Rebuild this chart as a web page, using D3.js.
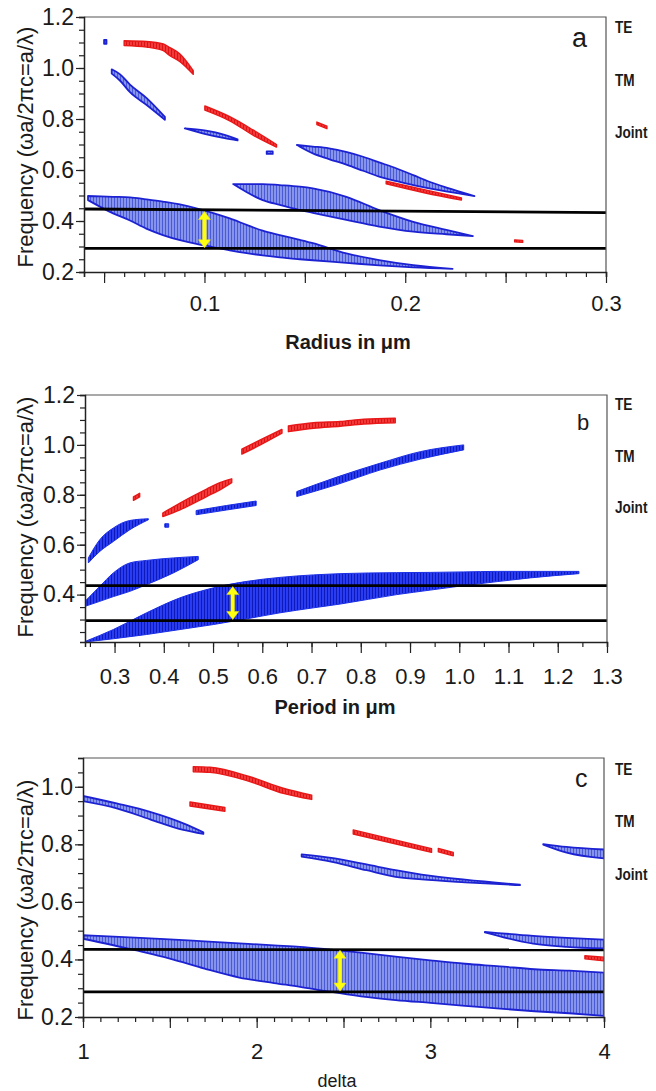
<!DOCTYPE html>
<html><head><meta charset="utf-8">
<script src="https://cdn.jsdelivr.net/npm/d3@7"></script>
<style>
body{margin:0;background:#fff}
svg text{font-family:"Liberation Sans",Arial,sans-serif;fill:#1a1a1a}
</style>
</head><body>
<svg id="chart" width="656" height="1091"></svg>
<script>
// ---------------- DATA ----------------
const sideLabels = ["TE", "TM", "Joint"];

// Panel a : radius sweep
const aXDomain = [0.04, 0.3];
const aYDomain = [0.2, 1.2];
const aXTickLabels = [0.1, 0.2, 0.3];
const aYTickLabels = [0.2, 0.4, 0.6, 0.8, 1.0, 1.2];
const aGapLines = [[0.447, 0.433], [0.293, 0.293]];   // [left, right]
const aArrow = [0.1, 0.437, 0.295];                    // x, top, bottom
const aBands = [
  {mode:"TM", x:[0.0500,0.0512], hi:[1.110,1.110], lo:[1.095,1.095]},
  {mode:"TE", x:[0.0600,0.0712,0.0795,0.0828,0.0878,0.0944], hi:[1.107,1.104,1.094,1.080,1.055,0.990], lo:[1.088,1.082,1.068,1.048,1.025,0.975]},
  {mode:"TM", x:[0.0538,0.0580,0.0629,0.0712,0.0803], hi:[0.995,0.975,0.935,0.882,0.808], lo:[0.978,0.950,0.905,0.855,0.797]},
  {mode:"TM", x:[0.0902,0.1000,0.1100,0.1165], hi:[0.763,0.755,0.738,0.720], lo:[0.763,0.742,0.725,0.716]},
  {mode:"TE", x:[0.1002,0.1126,0.1242,0.1359], hi:[0.851,0.809,0.757,0.700], lo:[0.835,0.793,0.737,0.690]},
  {mode:"TM", x:[0.1310,0.1340], hi:[0.673,0.673], lo:[0.663,0.663]},
  {mode:"TE", x:[0.1560,0.1610], hi:[0.788,0.772], lo:[0.778,0.762]},
  {mode:"TM", x:[0.146,0.154,0.162,0.171,0.179,0.187,0.196,0.204,0.212,0.221,0.2345], hi:[0.698,0.692,0.685,0.670,0.652,0.630,0.605,0.580,0.554,0.530,0.498], lo:[0.698,0.665,0.643,0.620,0.597,0.574,0.556,0.541,0.528,0.515,0.498]},
  {mode:"TE", x:[0.1905,0.2100,0.2280], hi:[0.556,0.522,0.490], lo:[0.546,0.510,0.482]},
  {mode:"TM", x:[0.1143,0.129,0.1375,0.1475,0.154,0.1707,0.187,0.204,0.2205,0.2337], hi:[0.545,0.545,0.541,0.535,0.528,0.495,0.443,0.397,0.365,0.341], lo:[0.545,0.482,0.463,0.443,0.432,0.404,0.378,0.358,0.348,0.341]},
  {mode:"TM", x:[0.042,0.0545,0.0629,0.071,0.0793,0.0878,0.096,0.104,0.1126,0.121,0.129,0.1375,0.1475,0.154,0.1707,0.187,0.204,0.2236], hi:[0.498,0.495,0.493,0.485,0.476,0.465,0.450,0.432,0.410,0.385,0.362,0.345,0.326,0.313,0.273,0.247,0.227,0.212], lo:[0.482,0.430,0.402,0.370,0.345,0.325,0.310,0.298,0.285,0.274,0.265,0.257,0.250,0.246,0.236,0.226,0.218,0.212]},
  {mode:"TE", x:[0.2545,0.2585], hi:[0.326,0.324], lo:[0.318,0.316]}
];

// Panel b : period sweep
const bXDomain = [0.24, 1.3];
const bYDomain = [0.21, 1.2];
const bXTickLabels = [0.3,0.4,0.5,0.6,0.7,0.8,0.9,1.0,1.1,1.2,1.3];
const bYTickLabels = [0.4, 0.6, 0.8, 1.0, 1.2];
const bGapLines = [[0.436, 0.436], [0.296, 0.296]];
const bArrow = [0.54, 0.432, 0.300];
const bBands = [
  {mode:"TM", x:[0.24,0.2976,0.365,0.433,0.5008,0.5687,0.636,0.704,0.758,0.873,0.941,1.009,1.077,1.144,1.243], hi:[0.212,0.260,0.327,0.387,0.427,0.453,0.469,0.479,0.484,0.488,0.489,0.491,0.493,0.493,0.493], lo:[0.210,0.223,0.240,0.260,0.280,0.303,0.327,0.347,0.362,0.400,0.418,0.436,0.452,0.467,0.484]},
  {mode:"TM", x:[0.24,0.27,0.2976,0.331,0.365,0.4195,0.47], hi:[0.373,0.433,0.487,0.527,0.537,0.547,0.553], lo:[0.353,0.373,0.392,0.413,0.440,0.487,0.540]},
  {mode:"TM", x:[0.2468,0.27,0.2976,0.331,0.3687], hi:[0.547,0.620,0.667,0.697,0.704], lo:[0.527,0.573,0.613,0.660,0.700]},
  {mode:"TM", x:[0.402,0.410], hi:[0.684,0.684], lo:[0.670,0.670]},
  {mode:"TE", x:[0.3384,0.351], hi:[0.792,0.806], lo:[0.778,0.792]},
  {mode:"TE", x:[0.398,0.433,0.487,0.514,0.538], hi:[0.727,0.767,0.823,0.849,0.864], lo:[0.713,0.740,0.793,0.820,0.849]},
  {mode:"TM", x:[0.4657,0.527,0.5876], hi:[0.737,0.757,0.775], lo:[0.720,0.739,0.757]},
  {mode:"TE", x:[0.5585,0.596,0.64], hi:[0.983,1.020,1.062], lo:[0.963,1.000,1.047]},
  {mode:"TE", x:[0.653,0.704,0.758,0.806,0.87], hi:[1.076,1.089,1.094,1.103,1.107], lo:[1.053,1.067,1.075,1.084,1.089]},
  {mode:"TM", x:[0.67,0.75,0.84,0.921,1.009], hi:[0.813,0.870,0.927,0.973,1.000], lo:[0.793,0.840,0.900,0.943,0.980]}
];

// Panel c : delta sweep
const cXDomain = [1, 4];
const cYDomain = [0.2, 1.1];
const cXTickLabels = [1, 2, 3, 4];
const cYTickLabels = [0.2, 0.4, 0.6, 0.8, 1.0];
const cGapLines = [[0.435, 0.433], [0.287, 0.287]];
const cArrow = [2.48, 0.432, 0.290];
const cBands = [
  {mode:"TM", x:[1.0,1.194,1.386,1.578,1.693], hi:[0.968,0.942,0.913,0.873,0.842], lo:[0.950,0.925,0.887,0.850,0.836]},
  {mode:"TE", x:[1.616,1.817], hi:[0.947,0.928], lo:[0.933,0.915]},
  {mode:"TE", x:[1.635,1.731,1.961,2.153,2.317], hi:[1.070,1.068,1.035,0.995,0.971], lo:[1.052,1.050,1.018,0.977,0.956]},
  {mode:"TM", x:[2.259,2.441,2.633,2.8,2.95,3.2,3.516], hi:[0.765,0.752,0.730,0.710,0.695,0.677,0.660], lo:[0.757,0.738,0.710,0.687,0.678,0.668,0.658]},
  {mode:"TE", x:[2.556,3.007], hi:[0.850,0.785], lo:[0.836,0.772]},
  {mode:"TE", x:[3.046,3.132], hi:[0.786,0.772], lo:[0.774,0.760]},
  {mode:"TM", x:[3.65,3.785,4.0], hi:[0.801,0.791,0.782], lo:[0.799,0.771,0.751]},
  {mode:"TM", x:[3.314,3.592,3.785,4.0], hi:[0.496,0.482,0.475,0.469], lo:[0.494,0.455,0.444,0.438]},
  {mode:"TE", x:[3.89,4.0], hi:[0.413,0.408], lo:[0.402,0.395]},
  {mode:"TM", x:[1.0,1.3,1.5,1.7,1.9,2.1,2.25,2.4,2.6,2.8,3.0,3.2,3.4,3.6,3.8,4.0], hi:[0.484,0.476,0.470,0.463,0.456,0.449,0.444,0.436,0.424,0.410,0.397,0.385,0.376,0.366,0.361,0.354], lo:[0.472,0.432,0.403,0.368,0.337,0.318,0.305,0.290,0.272,0.259,0.249,0.239,0.229,0.220,0.213,0.204]}
];

// ---------------- RENDER ----------------
const svg = d3.select("#chart");
const defs = svg.append("defs");
function hatch(id, base, stripe){
  const p = defs.append("pattern").attr("id", id).attr("patternUnits","userSpaceOnUse")
    .attr("width", 3).attr("height", 10);
  p.append("rect").attr("width",3).attr("height",10).attr("fill",base);
  p.append("rect").attr("width",1).attr("height",10).attr("fill",stripe);
}
hatch("hLight", "#8794ec", "#4a5ad6");
hatch("hDark", "#2a3cf2", "#0d1ab8");
hatch("hRed", "#f23a3a", "#d81414");

const panels = [
  {key:"a", l:84, t:17, r:606, b:272, xd:aXDomain, yd:aYDomain, xt:aXTickLabels, yt:aYTickLabels,
   xMajorStep:0.05, xMinorStep:0.01, xFmt:".1f", yMinorStep:0.05, gaps:aGapLines, arrow:aArrow, bands:aBands,
   fill:"url(#hLight)", stroke:"#1c22d2", sw:1.8,
   xLabelY:311, title:"Radius in μm", titleBold:true, titleSize:20, titleX:348, titleY:349,
   yTitleY:147, side:[33,86,138], letter:"a", letterX:572, letterY:47, letterSize:27},
  {key:"b", l:85, t:395, r:607, b:642, xd:bXDomain, yd:bYDomain, xt:bXTickLabels, yt:bYTickLabels,
   xMajorStep:0.1, xMinorStep:0.05, xFmt:".1f", yMinorStep:0.05, gaps:bGapLines, arrow:bArrow, bands:bBands,
   fill:"url(#hDark)", stroke:"#1a2ee6", sw:1,
   xLabelY:684, title:"Period in μm", titleBold:true, titleSize:20, titleX:335, titleY:714,
   yTitleY:517, side:[410,462,513], letter:"b", letterX:577, letterY:430, letterSize:22},
  {key:"c", l:83, t:758, r:604, b:1017, xd:cXDomain, yd:cYDomain, xt:cXTickLabels, yt:cYTickLabels,
   xMajorStep:0.5, xMinorStep:0.1, xFmt:"d", yMinorStep:0.05, gaps:cGapLines, arrow:cArrow, bands:cBands,
   fill:"url(#hLight)", stroke:"#1c22d2", sw:1.8,
   xLabelY:1059, title:"delta", titleBold:false, titleSize:18, titleX:337, titleY:1087,
   yTitleY:900, side:[775,827,880], letter:"c", letterX:575, letterY:787, letterSize:25}
];

function rangeStep(d0, d1, step){
  const out = [];
  const start = Math.ceil(d0 / step - 1e-6);
  for (let k = start; k * step <= d1 + 1e-9; k++) out.push(+(k * step).toFixed(4));
  return out;
}

panels.forEach(P => {
  const x = d3.scaleLinear().domain(P.xd).range([P.l, P.r]);
  const y = d3.scaleLinear().domain(P.yd).range([P.b, P.t]);
  const g = svg.append("g");

  defs.append("clipPath").attr("id", "clip" + P.key)
    .append("rect").attr("x", P.l).attr("y", P.t).attr("width", P.r - P.l).attr("height", P.b - P.t);
  const plot = g.append("g").attr("clip-path", `url(#clip${P.key})`);

  const area = d3.area().x(d => x(d[0])).y0(d => y(d[2])).y1(d => y(d[1])).curve(d3.curveMonotoneX);
  P.bands.forEach(bd => {
    const pts = bd.x.map((v, i) => [v, bd.hi[i], bd.lo[i]]);
    const te = bd.mode === "TE";
    plot.append("path").attr("d", area(pts))
      .attr("fill", te ? "url(#hRed)" : P.fill)
      .attr("stroke", te ? "#e81818" : P.stroke)
      .attr("stroke-width", te ? 1.4 : P.sw)
      .attr("stroke-linejoin", "round");
  });

  // gap edge lines
  P.gaps.forEach(gl => {
    plot.append("line").attr("x1", P.l).attr("x2", P.r)
      .attr("y1", y(gl[0])).attr("y2", y(gl[1]))
      .attr("stroke", "#000").attr("stroke-width", 2.8);
  });

  // yellow double arrow
  const ax = x(P.arrow[0]), a0 = y(P.arrow[1]), a1 = y(P.arrow[2]);
  const hw = 6, hh = 8, s = 1.8;
  plot.append("path").attr("d",
    `M${ax},${a0} L${ax+hw},${a0+hh} L${ax+s},${a0+hh} L${ax+s},${a1-hh} L${ax+hw},${a1-hh} L${ax},${a1} L${ax-hw},${a1-hh} L${ax-s},${a1-hh} L${ax-s},${a0+hh} L${ax-hw},${a0+hh} Z`)
    .attr("fill", "#ffff10").attr("stroke", "#e8e800").attr("stroke-width", 0.5);

  // frame (top/right)
  g.append("path").attr("d", `M${P.l},${P.t} L${P.r},${P.t} L${P.r},${P.b}`)
    .attr("fill", "none").attr("stroke", "#555").attr("stroke-width", 1.2);

  // y axis minor + major
  const yMinor = rangeStep(P.yd[0], P.yd[1], P.yMinorStep);
  g.append("g").attr("transform", `translate(${P.l},0)`)
    .call(d3.axisLeft(y).tickValues(yMinor).tickSize(5).tickFormat(""))
    .call(s => { s.select(".domain").attr("stroke", "#222").attr("stroke-width", 1.5); s.selectAll("line").attr("stroke", "#222").attr("stroke-width", 1.2); });
  g.append("g").attr("transform", `translate(${P.l},0)`)
    .call(d3.axisLeft(y).tickValues(P.yt).tickSize(8).tickPadding(2).tickFormat(d3.format(".1f")))
    .call(s => {
      s.select(".domain").remove();
      s.selectAll("line").attr("stroke", "#222").attr("stroke-width", 1.2);
      s.selectAll("text").attr("font-size", 23).attr("fill", "#111")
        .style("font-family", '"Liberation Sans", Arial, sans-serif');
    });

  // x axis minor + major
  const xMinor = rangeStep(P.xd[0], P.xd[1], P.xMinorStep);
  const xMajor = rangeStep(P.xd[0], P.xd[1], P.xMajorStep);
  g.append("g").attr("transform", `translate(0,${P.b})`)
    .call(d3.axisBottom(x).tickValues(xMinor).tickSize(5).tickFormat(""))
    .call(s => { s.select(".domain").attr("stroke", "#222").attr("stroke-width", 1.5); s.selectAll("line").attr("stroke", "#222").attr("stroke-width", 1.2); });
  g.append("g").attr("transform", `translate(0,${P.b})`)
    .call(d3.axisBottom(x).tickValues(xMajor).tickSize(11).tickFormat(""))
    .call(s => { s.select(".domain").remove(); s.selectAll("line").attr("stroke", "#222").attr("stroke-width", 1.2); });
  g.append("g").attr("transform", `translate(0,${P.b})`)
    .call(d3.axisBottom(x).tickValues(P.xt).tickSize(0).tickFormat(d3.format(P.xFmt)))
    .call(s => {
      s.select(".domain").remove();
      s.selectAll("text").attr("y", P.xLabelY - P.b).attr("dy", 0)
        .attr("font-size", 22).attr("fill", "#111")
        .style("font-family", '"Liberation Sans", Arial, sans-serif');
    });

  // axis titles
  g.append("text").attr("x", P.titleX).attr("y", P.titleY).attr("text-anchor", "middle")
    .attr("font-size", P.titleSize).attr("font-weight", P.titleBold ? "bold" : "normal")
    .text(P.title);
  g.append("text").attr("transform", `translate(33,${P.yTitleY}) rotate(-90)`)
    .attr("text-anchor", "middle").attr("font-size", 22).attr("fill", "#111")
    .text("Frequency (ωa/2πc=a/λ)");

  // side labels
  sideLabels.forEach((t, i) => {
    g.append("text").attr("transform", `translate(615,${P.side[i]}) scale(0.85,1)`)
      .attr("font-size", 16).attr("font-weight", "bold").attr("fill", "#222")
      .text(t);
  });

  // panel letter
  g.append("text").attr("x", P.letterX).attr("y", P.letterY).attr("font-size", P.letterSize).text(P.letter);
});
</script>
</body></html>
